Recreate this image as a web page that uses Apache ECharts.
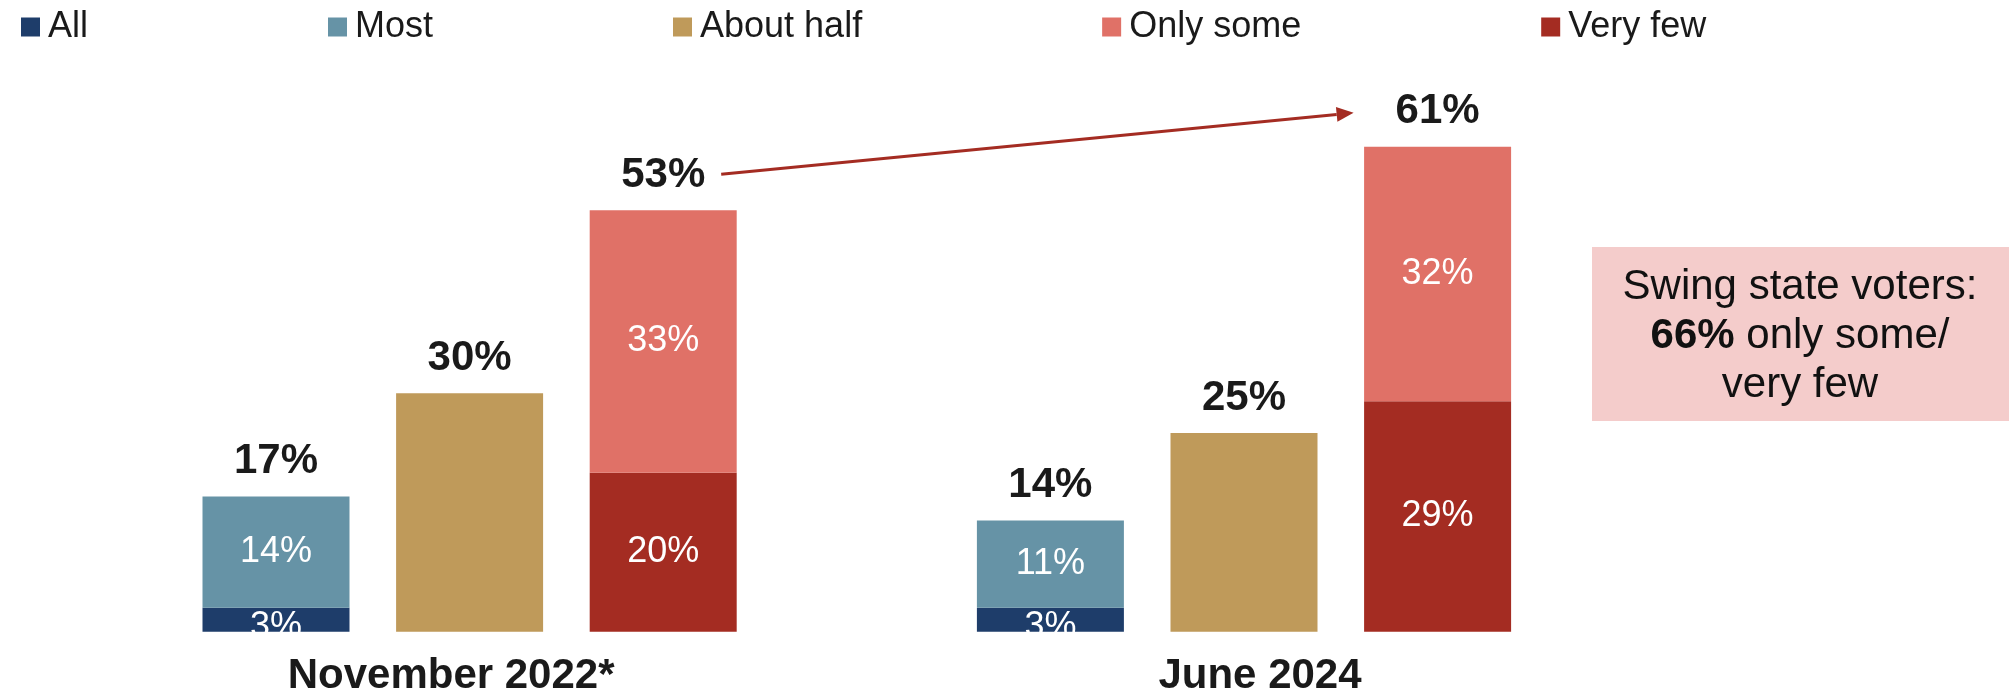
<!DOCTYPE html>
<html>
<head>
<meta charset="utf-8">
<script src="https://cdn.jsdelivr.net/npm/echarts@6/dist/echarts.min.js"></script>
<style>
html,body{margin:0;padding:0;background:#fff;}
#main{width:2009px;height:698px;}
</style>
</head>
<body>
<div id="main"></div>
<script>
const categories = ['November 2022*', 'June 2024'];
const legendNames = ['All', 'Most', 'About half', 'Only some', 'Very few'];
const allVals = [3, 3];
const mostVals = [14, 11];
const halfVals = [30, 25];
const someVals = [33, 32];
const fewVals = [20, 29];
const calloutPct = '66%';

const colors = {
  'All': '#1e3d6a',
  'Most': '#6693a6',
  'About half': '#bf9a5a',
  'Only some': '#e07167',
  'Very few': '#a42c22'
};

const totalA = allVals.map((v, i) => v + mostVals[i]);
const totalC = fewVals.map((v, i) => v + someVals[i]);
const zeros = categories.map(() => 0);

const FONT = '"Liberation Sans", Arial, sans-serif';
const BW = 147;
const GAP = '31.7%';

const insideLabel = {
  show: true, position: 'inside', color: '#ffffff', fontSize: 36,
  fontFamily: FONT, formatter: p => p.value + '%'
};
const topLabel = (arr) => ({
  show: true, position: 'top', distance: 14, color: '#1a1a1a', fontSize: 42,
  fontWeight: 'bold', fontFamily: FONT,
  formatter: p => arr[p.dataIndex] + '%'
});

function bar(name, data, stack, label) {
  return {
    name, type: 'bar', stack, data, barWidth: BW, barGap: GAP,
    itemStyle: { color: colors[name] }, label, emphasis: { disabled: true }
  };
}

const chart = echarts.init(document.getElementById('main'), null, { renderer: 'canvas' });

const catText = { fontSize: 42, fontWeight: 'bold', fontFamily: FONT, color: '#1a1a1a' };

const option = {
  animation: false,
  backgroundColor: '#ffffff',
  legend: {
    data: legendNames,
    left: 16, top: 4, itemGap: 240,
    itemWidth: 19, itemHeight: 19, icon: 'rect',
    textStyle: { fontSize: 36, fontFamily: FONT, color: '#1a1a1a', padding: [0, 0, 0, 3] },
    selectedMode: false
  },
  grid: { left: 82.4, right: 377.8, top: 75.2, bottom: 66.3 },
  xAxis: {
    type: 'category', data: categories,
    axisLine: { show: false }, axisTick: { show: false },
    axisLabel: {
      margin: 24,
      formatter: (v, i) => (i === 0 ? '{l|' + v + '}' : '{r|' + v + '}'),
      rich: {
        l: Object.assign({ padding: [0, 37, 0, 0] }, catText),
        r: Object.assign({ padding: [0, 0, 0, 32] }, catText)
      }
    }
  },
  yAxis: { type: 'value', min: 0, max: 70, show: false, splitLine: { show: false } },
  series: [
    bar('All', allVals, 'a', Object.assign({}, insideLabel, { offset: [0, 7] })),
    bar('Most', mostVals, 'a', insideLabel),
    bar('Total A', zeros, 'a', topLabel(totalA)),
    bar('About half', halfVals, 'b', topLabel(halfVals)),
    bar('Very few', fewVals, 'c', insideLabel),
    bar('Only some', someVals, 'c', insideLabel),
    bar('Total C', zeros, 'c', topLabel(totalC))
  ]
};
option.series[2].itemStyle = { color: 'rgba(0,0,0,0)' };
option.series[6].itemStyle = { color: 'rgba(0,0,0,0)' };

chart.setOption(option);

// annotation arrow computed from the axes
const pitch = BW * (1 + parseFloat(GAP) / 100);
const p0 = chart.convertToPixel({ gridIndex: 0 }, [0, totalC[0]]);
const p1 = chart.convertToPixel({ gridIndex: 0 }, [1, totalC[1]]);
const sx = p0[0] + pitch + 58, sy = p0[1] - 36;
const ex = p1[0] + pitch - 84, ey = p1[1] - 34;
const ang = Math.atan2(ey - sy, ex - sx);
const hl = 17, hw = 7.5;
const bx = ex - hl * Math.cos(ang), by = ey - hl * Math.sin(ang);
const nx = -Math.sin(ang), ny = Math.cos(ang);
const arrowColor = '#a42c22';

chart.setOption({
  graphic: [
    {
      type: 'line', silent: true,
      shape: { x1: sx, y1: sy, x2: bx, y2: by },
      style: { stroke: arrowColor, lineWidth: 3 }
    },
    {
      type: 'polygon', silent: true,
      shape: { points: [[ex, ey], [bx + nx * hw, by + ny * hw], [bx - nx * hw, by - ny * hw]] },
      style: { fill: arrowColor }
    },
    {
      type: 'group', right: 0, top: 247,
      children: [
        { type: 'rect', shape: { x: 0, y: 0, width: 417, height: 174 }, style: { fill: '#f4cccb' } },
        {
          type: 'text', x: 208, y: 89,
          style: {
            text: 'Swing state voters:\n{b|' + calloutPct + '} only some/\nvery few',
            align: 'center', verticalAlign: 'middle',
            font: '42px ' + FONT, fill: '#111111', lineHeight: 49,
            rich: { b: { fontWeight: 'bold', fontSize: 42, fontFamily: FONT, fill: '#111111', lineHeight: 49 } }
          }
        }
      ]
    }
  ]
});
</script>
</body>
</html>
